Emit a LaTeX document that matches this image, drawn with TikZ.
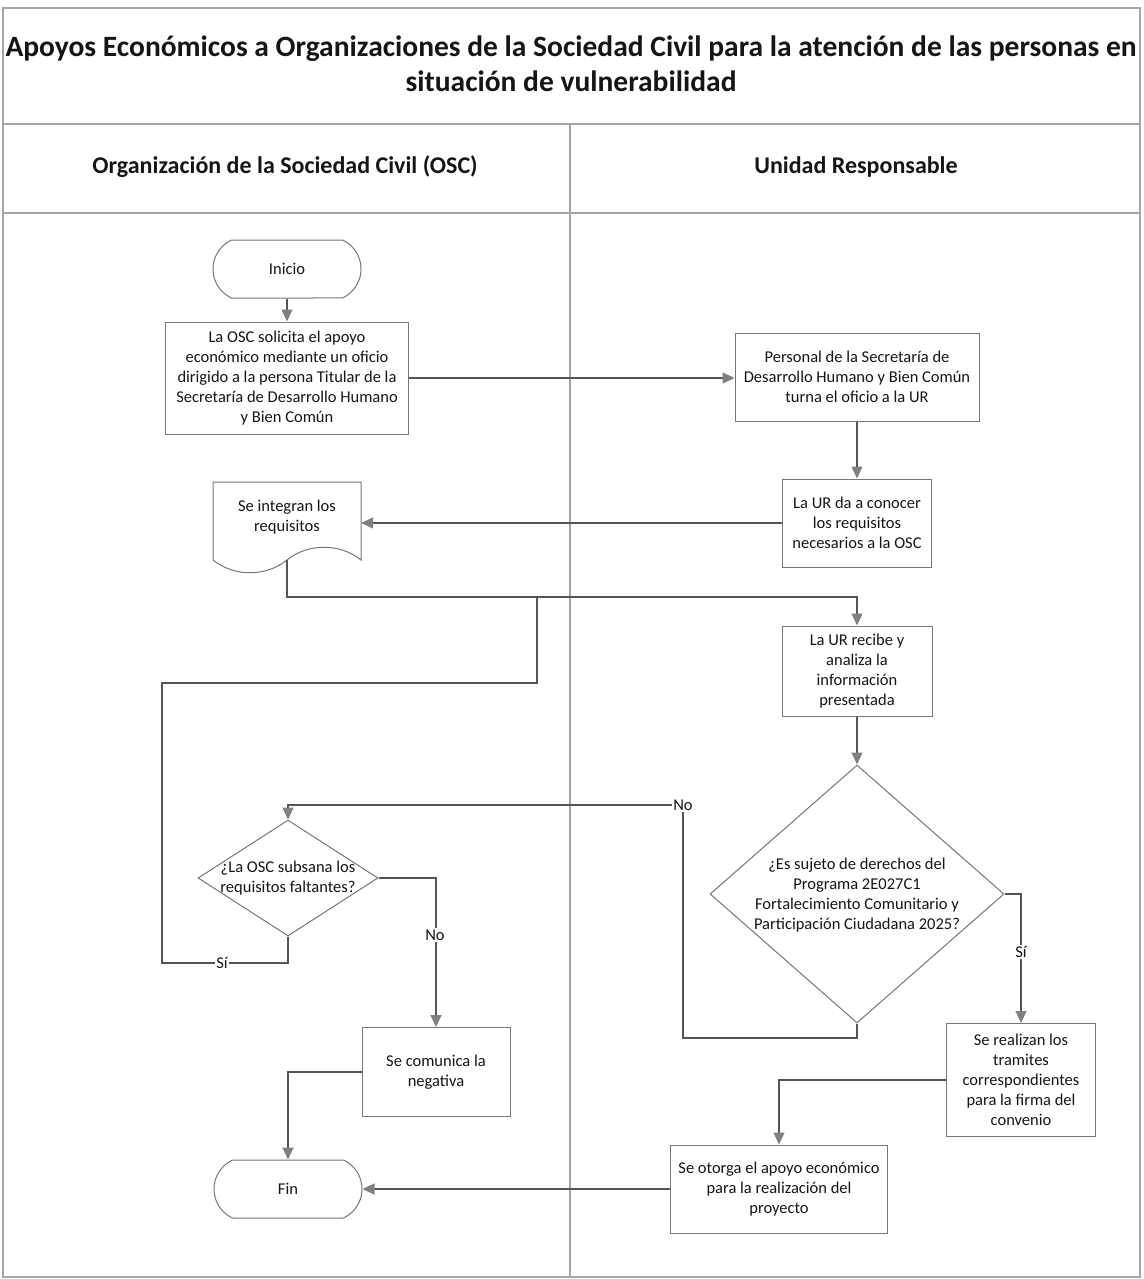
\documentclass[tikz,border=0pt]{standalone}
\usepackage{fontspec}
\setmainfont{Carlito}
\usetikzlibrary{arrows.meta,shapes.geometric,shapes.misc,calc}
\definecolor{framegray}{HTML}{A6A6A6}
\definecolor{boxgray}{HTML}{767676}
\definecolor{linegray}{HTML}{555555}
\definecolor{tipgray}{HTML}{808080}
\definecolor{ink}{HTML}{151515}

\begin{document}
\begin{tikzpicture}[x=1pt,y=-1pt,
  frame/.style={draw=framegray,line width=1.2pt},
  boxbase/.style={draw=boxgray,line width=1pt,fill=white,text=ink,align=center,inner sep=0pt,font=\fontsize{16.5}{20}\selectfont},
  proc/.style={boxbase,rectangle},
  term/.style={boxbase,rounded rectangle,rounded rectangle arc length=130},
  decision/.style={boxbase,diamond,aspect=1},
  dtext/.style={text=ink,align=center,inner sep=0pt,font=\fontsize{16.5}{20}\selectfont},
  docshape/.style={draw=boxgray,line width=1pt,fill=white},
  conn/.style={draw=linegray,line width=1.2pt},
  arr/.style={conn,-{Triangle[length=12pt,width=11pt,color=tipgray,fill=tipgray]}},
  lbl/.style={fill=white,text=ink,inner sep=1.5pt,font=\fontsize{16.5}{20}\selectfont},
  heading/.style={text=ink,font=\fontsize{24}{28}\selectfont\bfseries},
]
\fill[white] (0,0) rectangle (1143,1279);
\useasboundingbox (0,0) rectangle (1143,1279);

% page frame: title band, lane headers and the two swimlanes
\draw[frame] (3,8) rectangle (1140,1277);
\draw[frame] (3,124) -- (1140,124);
\draw[frame] (3,213) -- (1140,213);
\draw[frame] (570,124) -- (570,1277);

\node[text=ink,align=center,font=\fontsize{29.5}{35}\selectfont\bfseries] (title) at (571,64)
  {Apoyos Económicos a Organizaciones de la Sociedad Civil para la atención de las personas en\\situación de vulnerabilidad};
\node[heading] (hOSC) at (285,167) {Organización de la Sociedad Civil (OSC)};
\node[heading] (hUR) at (856,167) {Unidad Responsable};

% process steps
\node[term, minimum width=148pt, minimum height=58pt] (ini) at (287,269) {Inicio};
\node[proc, minimum width=243pt, minimum height=112pt] (b1) at (287,378)
  {La OSC solicita el apoyo\\económico mediante un oficio\\dirigido a la persona Titular de la\\Secretaría de Desarrollo Humano\\y Bien Común};
\node[proc, minimum width=244pt, minimum height=88pt] (b2) at (857,377)
  {Personal de la Secretaría de\\Desarrollo Humano y Bien Común\\turna el oficio a la UR};
\node[proc, minimum width=149pt, minimum height=88pt] (b3) at (857,523)
  {La UR da a conocer\\los requisitos\\necesarios a la OSC};

% document shape with a wavy lower edge
\draw[docshape] (213,482) -- (361,482) -- (361,560)
  .. controls (340,543) and (308,543) .. (287,560)
  .. controls (266,577) and (234,577) .. (213,560) -- cycle;
\node[dtext, minimum width=148pt] (doc) at (287,517) {Se integran los\\requisitos};
\coordinate (docout) at (287,560);

\node[proc, minimum width=150pt, minimum height=90pt] (b4) at (857,671)
  {La UR recibe y\\analiza la\\información\\presentada};
\node[decision, minimum width=294pt, minimum height=258pt] (d2) at (857,894) {};
\node[dtext] (d2t) at (857,895)
  {¿Es sujeto de derechos del\\Programa 2E027C1\\Fortalecimiento Comunitario y\\Participación Ciudadana 2025?};
\node[decision, minimum width=180pt, minimum height=116pt] (d1) at (288,878) {};
\node[dtext] (d1t) at (288,878) {¿La OSC subsana los\\requisitos faltantes?};
\node[proc, minimum width=148pt, minimum height=89pt] (neg) at (436,1072) {Se comunica la\\negativa};
\node[proc, minimum width=149pt, minimum height=113pt] (tram) at (1021,1080)
  {Se realizan los\\tramites\\correspondientes\\para la firma del\\convenio};
\node[proc, minimum width=217pt, minimum height=88pt] (oto) at (779,1189)
  {Se otorga el apoyo económico\\para la realización del\\proyecto};
\node[term, minimum width=148pt, minimum height=58pt] (fin) at (288,1189) {Fin};

% bends of the routed connectors
\coordinate (join) at (537,597);
\coordinate (siL) at (162,963);
\coordinate (siT) at (162,683);
\coordinate (noBot) at (683,1038);
\coordinate (noTop) at (683,805);

% connectors
\draw[arr] (ini.south) -- (ini.south |- b1.north);
\draw[arr] (b1.east) -- (b1.east -| b2.west);
\draw[arr] (b2.south) -- (b2.south |- b3.north);
\draw[arr] (b3.west) -- (b3.west -| doc.east);
\draw[arr] (docout) |- (join) -| (b4.north);
\draw[conn] (d1.south) |- (siL) -- (siT) -| (join);
\draw[arr] (b4.south) -- (d2.north);
\draw[arr] (d2.south) |- (noBot) -- (noTop) -| (d1.north);
\draw[arr] (d1.east) -| (neg.north);
\draw[arr] (d2.east) -| (tram.north);
\draw[arr] (tram.west) -| (oto.north);
\draw[arr] (oto.west) -- (oto.west -| fin.east);
\draw[arr] (neg.west) -| (fin.north);

% branch labels
\node[lbl] (noA) at (683,805) {No};
\node[lbl] (noB) at (435,935) {No};
\node[lbl] (siA) at (222,963) {Sí};
\node[lbl] (siB) at (1021,952) {Sí};
\end{tikzpicture}
\end{document}
